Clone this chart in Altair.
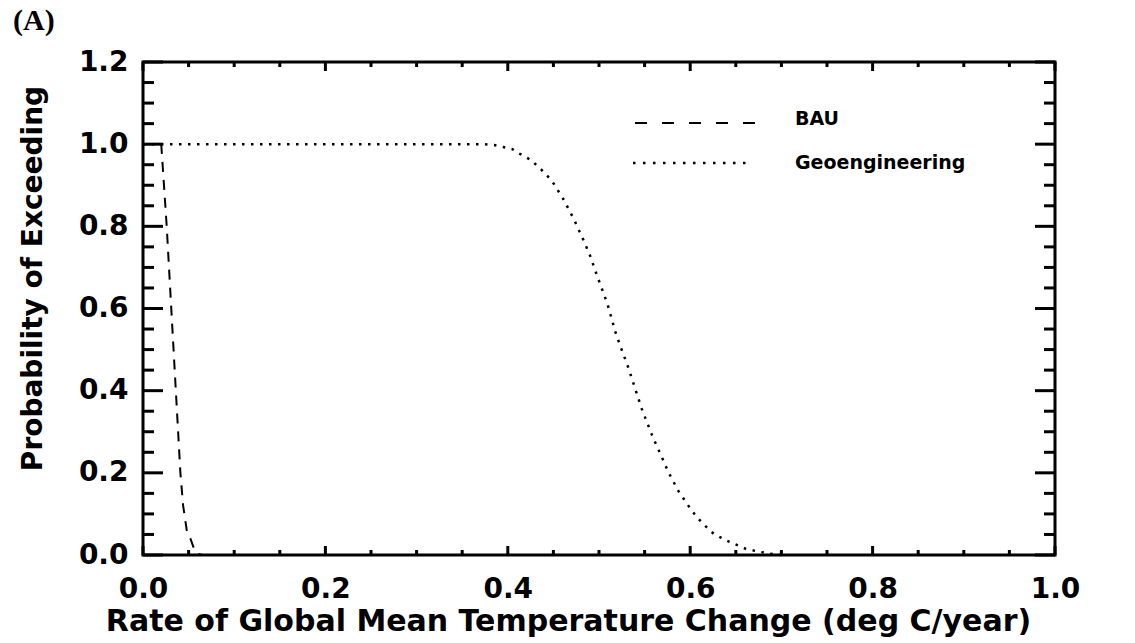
import altair as alt
import pandas as pd

# ---- data ----
bau_x = [0.0, 0.02, 0.023, 0.026, 0.0285, 0.031, 0.0335, 0.036, 0.0385, 0.041, 0.044, 0.048, 0.052, 0.056, 0.06, 0.065]
bau_y = [1.0, 1.0, 0.9, 0.8, 0.7, 0.6, 0.5, 0.4, 0.3, 0.2, 0.12, 0.06, 0.04, 0.015, 0.003, 0.0]

geo_x = [0.0, 0.36, 0.374, 0.385, 0.395, 0.405, 0.412, 0.425, 0.435, 0.448, 0.461, 0.473, 0.483, 0.490,
         0.498, 0.509, 0.518, 0.523, 0.532, 0.547, 0.559, 0.569, 0.576, 0.587, 0.602, 0.613, 0.626,
         0.643, 0.661, 0.671, 0.685, 0.70]
geo_y = [1.0, 1.0, 1.0, 0.998, 0.993, 0.988, 0.978, 0.962, 0.942, 0.912, 0.866, 0.815, 0.766, 0.730,
         0.679, 0.613, 0.543, 0.511, 0.457, 0.355, 0.287, 0.238, 0.202, 0.156, 0.107, 0.078, 0.051,
         0.032, 0.015, 0.010, 0.004, 0.0]

x_major = [0.0, 0.2, 0.4, 0.6, 0.8, 1.0]
x_minor = [0.05, 0.1, 0.15, 0.25, 0.3, 0.35, 0.45, 0.5, 0.55, 0.65, 0.7, 0.75, 0.85, 0.9, 0.95]
y_major = [0.0, 0.2, 0.4, 0.6, 0.8, 1.0, 1.2]
y_minor = [0.05, 0.1, 0.15, 0.25, 0.3, 0.35, 0.45, 0.5, 0.55, 0.65, 0.7, 0.75, 0.85, 0.9, 0.95,
           1.05, 1.1, 1.15]

series_names = ["BAU", "Geoengineering"]
x_title = "Rate of Global Mean Temperature Change (deg C/year)"
y_title = "Probability of Exceeding"
panel_label = "(A)"

W, H = 912, 493
FONT = "DejaVu Sans"

xs = alt.Scale(domain=[0, 1.0], nice=False, zero=False)
ys = alt.Scale(domain=[0, 1.2], nice=False, zero=False)

bau_df = pd.DataFrame({"x": bau_x, "y": bau_y})
geo_df = pd.DataFrame({"x": geo_x, "y": geo_y})

x_axis = alt.Axis(values=x_major, format=".1f", tickSize=0, domain=False, grid=False,
                  labelFont=FONT, labelFontSize=28, labelFontWeight="bold", labelColor="black",
                  labelPadding=20, labelFlush=False, labelOverlap=False,
                  title=x_title, titleFont=FONT, titleFontSize=30, titleFontWeight="bold",
                  titleColor="black", titleBaseline="alphabetic", titleY=75, titleX=425)
y_axis = alt.Axis(values=y_major, format=".1f", tickSize=0, domain=False, grid=False,
                  labelFont=FONT, labelFontSize=28, labelFontWeight="bold", labelColor="black",
                  labelPadding=15, labelFlush=False, labelOverlap=False,
                  title=y_title, titleFont=FONT, titleFontSize=28, titleFontWeight="bold",
                  titleColor="black", titleBaseline="alphabetic", titleAngle=-90,
                  titleX=-102, titleY=216, titleAlign="center")

bau = alt.Chart(bau_df).mark_line(color="black", strokeWidth=2, strokeDash=[10, 8]).encode(
    x=alt.X("x:Q", scale=xs, axis=x_axis),
    y=alt.Y("y:Q", scale=ys, axis=y_axis),
)
geo = alt.Chart(geo_df).mark_line(color="black", strokeWidth=2.5, strokeDash=[2.5, 6.5]).encode(
    x=alt.X("x:Q", scale=xs), y=alt.Y("y:Q", scale=ys)
)

xmaj = pd.DataFrame({"x": x_major})
xmin = pd.DataFrame({"x": x_minor})
ymaj = pd.DataFrame({"y": y_major})
ymin = pd.DataFrame({"y": y_minor})

def xticks(df, length):
    bottom = alt.Chart(df).mark_rule(color="black", strokeWidth=3).encode(
        x=alt.X("x:Q", scale=xs), y=alt.value(H), y2=alt.value(H - length))
    top = alt.Chart(df).mark_rule(color="black", strokeWidth=3).encode(
        x=alt.X("x:Q", scale=xs), y=alt.value(0), y2=alt.value(length))
    return [bottom, top]

def yticks(df, length):
    left = alt.Chart(df).mark_rule(color="black", strokeWidth=3).encode(
        y=alt.Y("y:Q", scale=ys), x=alt.value(0), x2=alt.value(length))
    right = alt.Chart(df).mark_rule(color="black", strokeWidth=3).encode(
        y=alt.Y("y:Q", scale=ys), x=alt.value(W), x2=alt.value(W - length))
    return [left, right]

ticks = xticks(xmaj, 9) + xticks(xmin, 5) + yticks(ymaj, 20) + yticks(ymin, 11)

one = pd.DataFrame({"a": [0]})
leg_bau = alt.Chart(one).mark_rule(color="black", strokeWidth=2, strokeDash=[12, 15]).encode(
    x=alt.value(492), x2=alt.value(614), y=alt.value(61))
leg_geo = alt.Chart(one).mark_rule(color="black", strokeWidth=2.5, strokeDash=[2.5, 7.5]).encode(
    x=alt.value(490), x2=alt.value(606), y=alt.value(101))

def leg_label(name, ypix):
    return alt.Chart(one).mark_text(
        font=FONT, fontSize=19, fontWeight="bold", align="left", baseline="middle",
        color="black", text=name
    ).encode(x=alt.value(652), y=alt.value(ypix))

leg_t1 = leg_label(series_names[0], 57)
leg_t2 = leg_label(series_names[1], 101)

lab = alt.Chart(one).mark_text(
    font="Liberation Serif", fontSize=30, fontWeight="bold", align="left", baseline="alphabetic",
    color="black", text=panel_label
).encode(x=alt.value(-130), y=alt.value(-32))

chart = alt.layer(bau, geo, *ticks, leg_bau, leg_geo, leg_t1, leg_t2, lab).properties(
    width=W, height=H,
    autosize=alt.AutoSizeParams(type="none"),
    padding={"left": 143, "top": 62, "right": 80, "bottom": 88},
    background="white",
).configure_view(stroke="black", strokeWidth=3)

chart.save("out.html", embed_options={"renderer": "svg", "actions": False})
